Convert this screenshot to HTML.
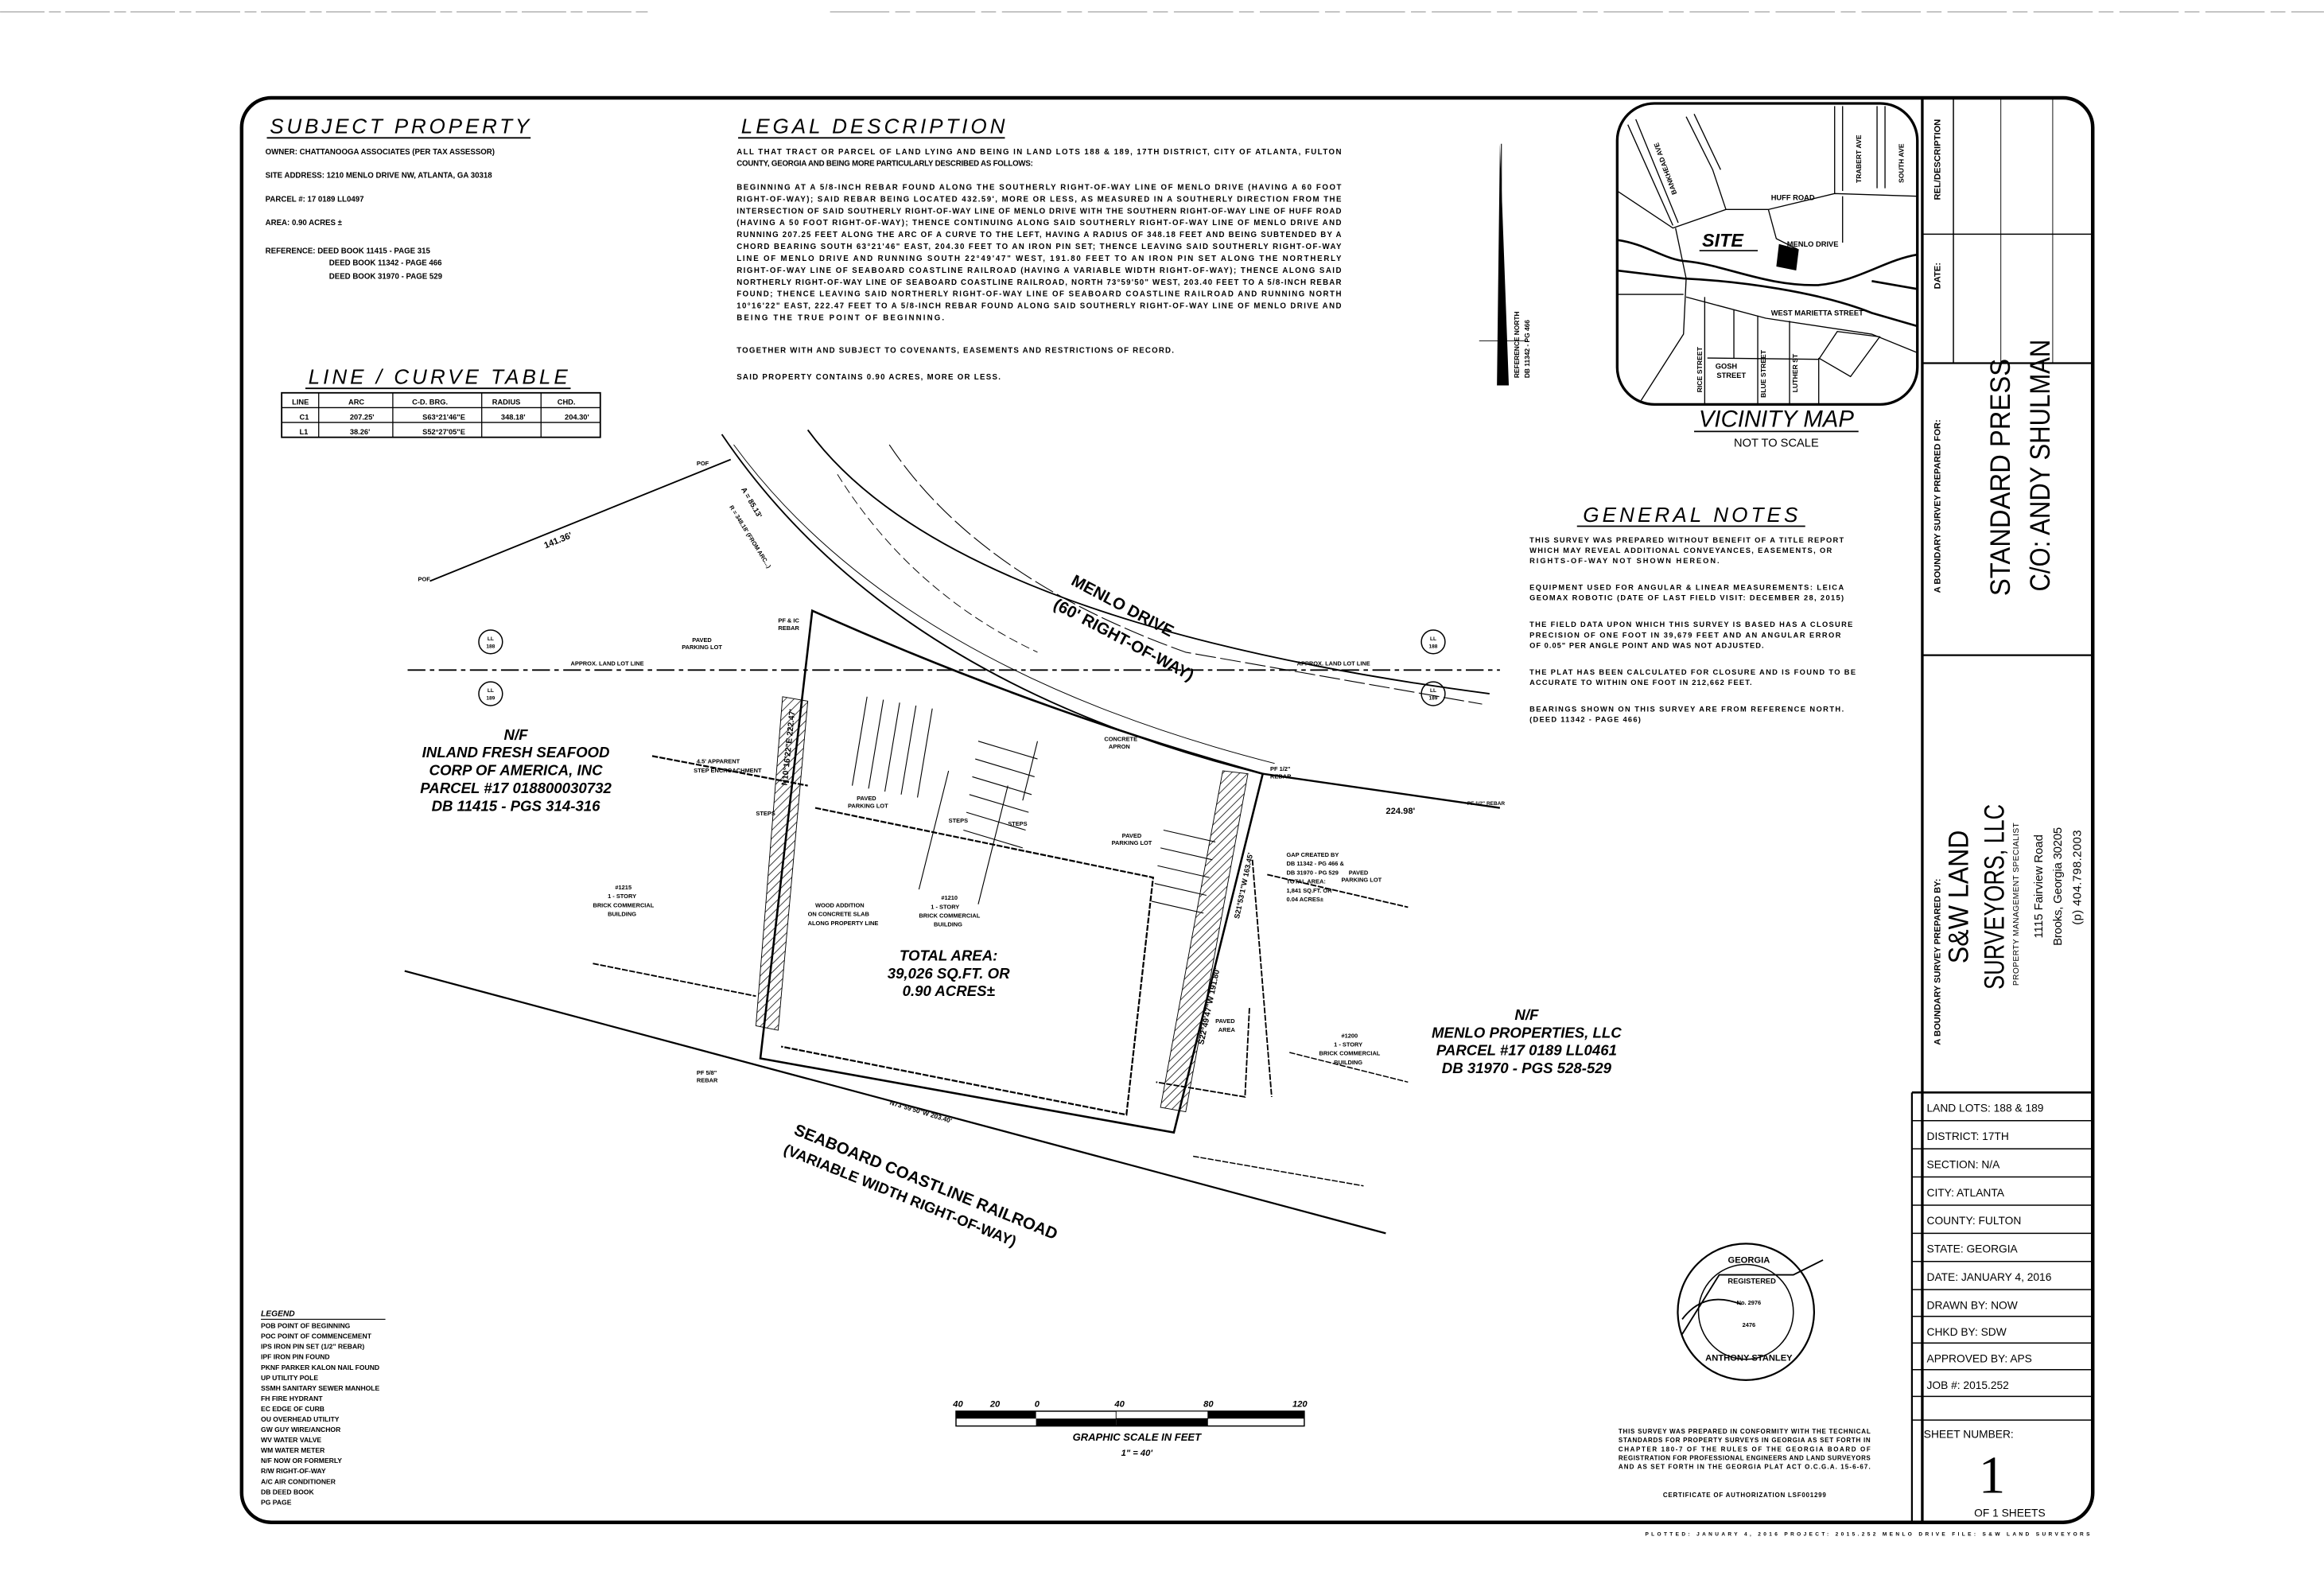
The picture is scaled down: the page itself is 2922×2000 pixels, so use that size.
<!DOCTYPE html>
<html><head><meta charset="utf-8"><style>
html,body{margin:0;padding:0;background:#fff;}
svg{display:block;}
text{font-family:"Liberation Sans",sans-serif;fill:#000;}
.b{font-weight:bold;}
.h{font-style:italic;font-size:14px;}
.s{font-size:5.2px;font-weight:bold;}
.t{font-size:5.6px;font-weight:bold;}
.ln{stroke:#000;fill:none;}
</style></head><body>
<svg width="2922" height="2000" viewBox="0 0 1568 1073.3" xmlns="http://www.w3.org/2000/svg">
<rect width="1568" height="1073.3" fill="#fff"/>
<line x1="0" y1="8" x2="440" y2="8" stroke="#999" stroke-width="0.6" stroke-dasharray="30 3 8 3"/>
<line x1="560" y1="8" x2="1568" y2="8" stroke="#999" stroke-width="0.6" stroke-dasharray="40 4 10 4"/>
<rect x="163" y="66" width="1249" height="961" rx="20" class="ln" stroke-width="2.4"/>
<line x1="1297" y1="66" x2="1297" y2="1027" class="ln" stroke-width="1.8"/>
<line x1="1297" y1="245" x2="1412" y2="245" class="ln" stroke-width="1.2"/>
<line x1="1297" y1="158" x2="1412" y2="158" class="ln" stroke-width="0.8"/>
<line x1="1318" y1="66" x2="1318" y2="245" class="ln" stroke-width="0.8"/>
<line x1="1350" y1="66" x2="1350" y2="245" class="ln" stroke-width="0.5"/>
<line x1="1385" y1="66" x2="1385" y2="245" class="ln" stroke-width="0.5"/>
<line x1="1297" y1="442" x2="1412" y2="442" class="ln" stroke-width="1.2"/>
<line x1="1290" y1="737" x2="1412" y2="737" class="ln" stroke-width="1.4"/>
<g class="ln" stroke-width="0.8">
<line x1="1290" y1="756" x2="1412" y2="756"/><line x1="1290" y1="775" x2="1412" y2="775"/>
<line x1="1290" y1="794" x2="1412" y2="794"/><line x1="1290" y1="813" x2="1412" y2="813"/>
<line x1="1290" y1="832" x2="1412" y2="832"/><line x1="1290" y1="851" x2="1412" y2="851"/>
<line x1="1290" y1="870" x2="1412" y2="870"/><line x1="1290" y1="888" x2="1412" y2="888"/>
<line x1="1290" y1="906" x2="1412" y2="906"/><line x1="1290" y1="924" x2="1412" y2="924"/>
<line x1="1290" y1="942" x2="1412" y2="942"/><line x1="1290" y1="958" x2="1412" y2="958"/>
</g>
<line x1="1290" y1="737" x2="1290" y2="1027" class="ln" stroke-width="1.2"/>
<g class="t" style="font-size:7.4px;font-weight:normal">
<text x="1300" y="750">LAND LOTS: 188 &amp; 189</text>
<text x="1300" y="769">DISTRICT: 17TH</text>
<text x="1300" y="788">SECTION: N/A</text>
<text x="1300" y="807">CITY: ATLANTA</text>
<text x="1300" y="826">COUNTY: FULTON</text>
<text x="1300" y="845">STATE: GEORGIA</text>
<text x="1300" y="864">DATE: JANUARY 4, 2016</text>
<text x="1300" y="883">DRAWN BY: NOW</text>
<text x="1300" y="901">CHKD BY: SDW</text>
<text x="1300" y="919">APPROVED BY: APS</text>
<text x="1300" y="937">JOB #: 2015.252</text>
<text x="1298" y="970">SHEET NUMBER:</text>
<text x="1332" y="1023">OF 1 SHEETS</text>
</g>
<text x="1344" y="1007" text-anchor="middle" style="font-size:36px;font-family:'Liberation Serif',serif">1</text>
<g class="t" style="font-size:6px">
<text transform="translate(1309,195) rotate(-90)">DATE:</text>
<text transform="translate(1309,135) rotate(-90)">REL/DESCRIPTION</text>
<text transform="translate(1309,400) rotate(-90)">A BOUNDARY SURVEY PREPARED FOR:</text>
<text transform="translate(1309,705) rotate(-90)">A BOUNDARY SURVEY PREPARED BY:</text>
</g>
<g text-anchor="middle" style="font-size:19px">
<text transform="translate(1356,322) rotate(-90)" textLength="160" lengthAdjust="spacingAndGlyphs">STANDARD PRESS</text>
<text transform="translate(1383,314) rotate(-90)" textLength="170" lengthAdjust="spacingAndGlyphs">C/O: ANDY SHULMAN</text>
<text transform="translate(1328,605) rotate(-90)" textLength="90" lengthAdjust="spacingAndGlyphs">S&amp;W LAND</text>
<text transform="translate(1352,605) rotate(-90)" textLength="125" lengthAdjust="spacingAndGlyphs">SURVEYORS, LLC</text>
</g>
<g text-anchor="middle" class="t" style="font-size:8px;font-weight:normal">
<text transform="translate(1362,610) rotate(-90)" style="font-size:5.5px" textLength="110">PROPERTY MANAGEMENT SPECIALIST</text>
<text transform="translate(1378,598) rotate(-90)" textLength="70">1115 Fairview Road</text>
<text transform="translate(1391,598) rotate(-90)" textLength="80">Brooks, Georgia 30205</text>
<text transform="translate(1404,592) rotate(-90)" textLength="64">(p) 404.798.2003</text>
</g>

<text x="182" y="90" class="h" textLength="175">SUBJECT PROPERTY</text>
<line x1="180" y1="93" x2="358" y2="93" class="ln" stroke-width="1"/>
<g class="s">
<text x="179" y="104">OWNER: CHATTANOOGA ASSOCIATES (PER TAX ASSESSOR)</text>
<text x="179" y="120">SITE ADDRESS: 1210 MENLO DRIVE NW, ATLANTA, GA 30318</text>
<text x="179" y="136">PARCEL #: 17 0189 LL0497</text>
<text x="179" y="152">AREA: 0.90 ACRES ±</text>
<text x="179" y="171">REFERENCE: DEED BOOK 11415 - PAGE 315</text>
<text x="222" y="179">DEED BOOK 11342 - PAGE 466</text>
<text x="222" y="188">DEED BOOK 31970 - PAGE 529</text>
</g>
<text x="208" y="259" class="h" textLength="175">LINE / CURVE TABLE</text>
<line x1="206" y1="262" x2="385" y2="262" class="ln" stroke-width="1"/>
<rect x="190" y="265" width="215" height="30" class="ln" stroke-width="1"/>
<g class="ln" stroke-width="0.7">
<line x1="190" y1="275" x2="405" y2="275"/><line x1="190" y1="285" x2="405" y2="285"/>
<line x1="215" y1="265" x2="215" y2="295"/><line x1="265" y1="265" x2="265" y2="295"/>
<line x1="325" y1="265" x2="325" y2="295"/><line x1="365" y1="265" x2="365" y2="295"/>
</g>
<g class="s" style="font-size:5px">
<text x="197" y="273">LINE</text><text x="235" y="273">ARC</text><text x="278" y="273">C-D. BRG.</text><text x="332" y="273">RADIUS</text><text x="376" y="273">CHD.</text>
<text x="202" y="283">C1</text><text x="236" y="283">207.25'</text><text x="285" y="283">S63°21'46"E</text><text x="338" y="283">348.18'</text><text x="381" y="283">204.30'</text>
<text x="202" y="293">L1</text><text x="236" y="293">38.26'</text><text x="285" y="293">S52°27'05"E</text>
</g>

<text x="500" y="90" class="h" textLength="178">LEGAL DESCRIPTION</text>
<line x1="498" y1="93" x2="678" y2="93" class="ln" stroke-width="1"/>
<g class="s" lengthAdjust="spacingAndGlyphs">
<text x="497" y="104" textLength="408">ALL THAT TRACT OR PARCEL OF LAND LYING AND BEING IN LAND LOTS 188 &amp; 189, 17TH DISTRICT, CITY OF ATLANTA, FULTON</text>
<text x="497" y="112" textLength="200">COUNTY, GEORGIA AND BEING MORE PARTICULARLY DESCRIBED AS FOLLOWS:</text>
<text x="497" y="128" textLength="408">BEGINNING AT A 5/8-INCH REBAR FOUND ALONG THE SOUTHERLY RIGHT-OF-WAY LINE OF MENLO DRIVE (HAVING A 60 FOOT</text>
<text x="497" y="136" textLength="408">RIGHT-OF-WAY); SAID REBAR BEING LOCATED 432.59', MORE OR LESS, AS MEASURED IN A SOUTHERLY DIRECTION FROM THE</text>
<text x="497" y="144" textLength="408">INTERSECTION OF SAID SOUTHERLY RIGHT-OF-WAY LINE OF MENLO DRIVE WITH THE SOUTHERN RIGHT-OF-WAY LINE OF HUFF ROAD</text>
<text x="497" y="152" textLength="408">(HAVING A 50 FOOT RIGHT-OF-WAY); THENCE CONTINUING ALONG SAID SOUTHERLY RIGHT-OF-WAY LINE OF MENLO DRIVE AND</text>
<text x="497" y="160" textLength="408">RUNNING 207.25 FEET ALONG THE ARC OF A CURVE TO THE LEFT, HAVING A RADIUS OF 348.18 FEET AND BEING SUBTENDED BY A</text>
<text x="497" y="168" textLength="408">CHORD BEARING SOUTH 63°21'46" EAST, 204.30 FEET TO AN IRON PIN SET; THENCE LEAVING SAID SOUTHERLY RIGHT-OF-WAY</text>
<text x="497" y="176" textLength="408">LINE OF MENLO DRIVE AND RUNNING SOUTH 22°49'47" WEST, 191.80 FEET TO AN IRON PIN SET ALONG THE NORTHERLY</text>
<text x="497" y="184" textLength="408">RIGHT-OF-WAY LINE OF SEABOARD COASTLINE RAILROAD (HAVING A VARIABLE WIDTH RIGHT-OF-WAY); THENCE ALONG SAID</text>
<text x="497" y="192" textLength="408">NORTHERLY RIGHT-OF-WAY LINE OF SEABOARD COASTLINE RAILROAD, NORTH 73°59'50" WEST, 203.40 FEET TO A 5/8-INCH REBAR</text>
<text x="497" y="200" textLength="408">FOUND; THENCE LEAVING SAID NORTHERLY RIGHT-OF-WAY LINE OF SEABOARD COASTLINE RAILROAD AND RUNNING NORTH</text>
<text x="497" y="208" textLength="408">10°16'22" EAST, 222.47 FEET TO A 5/8-INCH REBAR FOUND ALONG SAID SOUTHERLY RIGHT-OF-WAY LINE OF MENLO DRIVE AND</text>
<text x="497" y="216" textLength="140">BEING THE TRUE POINT OF BEGINNING.</text>
<text x="497" y="238" textLength="295">TOGETHER WITH AND SUBJECT TO COVENANTS, EASEMENTS AND RESTRICTIONS OF RECORD.</text>
<text x="497" y="256" textLength="178">SAID PROPERTY CONTAINS 0.90 ACRES, MORE OR LESS.</text>
</g>

<polygon points="1012,97 1018,260 1010,260" fill="#000"/>
<line x1="1013" y1="97" x2="1013" y2="260" class="ln" stroke-width="0.6"/>
<line x1="998" y1="230" x2="1030" y2="230" class="ln" stroke-width="0.5"/>
<text transform="translate(1025,255) rotate(-90)" class="s" style="font-size:4.5px">REFERENCE NORTH</text>
<text transform="translate(1032,255) rotate(-90)" class="s" style="font-size:4.5px">DB 11342 - PG 466</text>

<g transform="translate(1084,64.4) scale(0.1789)">
<rect x="40" y="30" width="1132" height="1135" rx="140" class="ln" stroke-width="10"/>
<g class="ln" stroke-width="8">
<path d="M40 545 C150 560 220 620 300 625 C450 640 600 720 800 715 C950 700 1050 620 1172 600"/>
<path d="M40 660 L290 690 C500 700 800 740 1000 820 L1172 870"/>
<path d="M1172 730 L1000 700"/>
</g>
<g class="ln" stroke-width="4">
<path d="M80 110 L250 490 M110 90 L270 480"/>
<path d="M40 360 L250 500 L450 430 L610 430 L860 370 L1172 380"/>
<path d="M300 80 L400 280 L450 430 M330 70 L430 280"/>
<path d="M860 40 L860 370 M890 40 L890 360 M1020 40 L1020 350 M1050 40 L1050 350"/>
<path d="M610 430 L640 540 L720 580 M890 380 L890 555"/>
<path d="M260 500 L300 690 L290 900 L130 1150"/>
<path d="M40 750 L290 750 M300 760 L600 840 L1000 900 L1172 970"/>
<path d="M370 760 L370 1165 M480 810 L480 990 M570 830 L570 1165 M690 850 L690 1165 M800 990 L800 1165"/>
<path d="M380 990 L800 995 L870 890 L1030 910 L920 1060 L800 990"/>
</g>
<polygon points="650,560 725,580 715,660 640,645" fill="#000"/>
<line x1="350" y1="585" x2="570" y2="585" class="ln" stroke-width="5"/>
<text x="360" y="570" style="font-size:70px;font-style:italic;font-weight:bold">SITE</text>
<text x="680" y="570" style="font-size:28px;font-weight:bold">MENLO DRIVE</text>
<text x="620" y="395" style="font-size:28px;font-weight:bold">HUFF ROAD</text>
<text x="620" y="830" style="font-size:28px;font-weight:bold">WEST MARIETTA STREET</text>
<text x="410" y="1030" style="font-size:28px;font-weight:bold">GOSH</text>
<text x="415" y="1065" style="font-size:28px;font-weight:bold">STREET</text>
<text transform="translate(265,370) rotate(-110)" style="font-size:26px;font-weight:bold">BANKHEAD AVE</text>
<text transform="translate(960,330) rotate(-90)" style="font-size:26px;font-weight:bold">TRABERT AVE</text>
<text transform="translate(1120,330) rotate(-90)" style="font-size:26px;font-weight:bold">SOUTH AVE</text>
<text transform="translate(600,1140) rotate(-90)" style="font-size:26px;font-weight:bold">BLUE STREET</text>
<text transform="translate(360,1120) rotate(-90)" style="font-size:26px;font-weight:bold">RICE STREET</text>
<text transform="translate(720,1120) rotate(-90)" style="font-size:26px;font-weight:bold">LUTHER ST</text>
<line x1="330" y1="1267" x2="950" y2="1267" class="ln" stroke-width="5"/>
<text x="640" y="1250" text-anchor="middle" style="font-size:88px;font-style:italic">VICINITY MAP</text>
<text x="640" y="1325" text-anchor="middle" style="font-size:44px">NOT TO SCALE</text>
</g>

<text x="1068" y="352" class="h" textLength="145">GENERAL NOTES</text>
<line x1="1064" y1="355" x2="1218" y2="355" class="ln" stroke-width="0.9"/>
<g class="s" style="font-size:5px" lengthAdjust="spacingAndGlyphs">
<text x="1032" y="366" textLength="212">THIS SURVEY WAS PREPARED WITHOUT BENEFIT OF A TITLE REPORT</text>
<text x="1032" y="373" textLength="204">WHICH MAY REVEAL ADDITIONAL CONVEYANCES, EASEMENTS, OR</text>
<text x="1032" y="380" textLength="128">RIGHTS-OF-WAY NOT SHOWN HEREON.</text>
<text x="1032" y="398" textLength="212">EQUIPMENT USED FOR ANGULAR &amp; LINEAR MEASUREMENTS: LEICA</text>
<text x="1032" y="405" textLength="212">GEOMAX ROBOTIC (DATE OF LAST FIELD VISIT: DECEMBER 28, 2015)</text>
<text x="1032" y="423" textLength="218">THE FIELD DATA UPON WHICH THIS SURVEY IS BASED HAS A CLOSURE</text>
<text x="1032" y="430" textLength="210">PRECISION OF ONE FOOT IN 39,679 FEET AND AN ANGULAR ERROR</text>
<text x="1032" y="437" textLength="158">OF 0.05" PER ANGLE POINT AND WAS NOT ADJUSTED.</text>
<text x="1032" y="455" textLength="220">THE PLAT HAS BEEN CALCULATED FOR CLOSURE AND IS FOUND TO BE</text>
<text x="1032" y="462" textLength="150">ACCURATE TO WITHIN ONE FOOT IN 212,662 FEET.</text>
<text x="1032" y="480" textLength="212">BEARINGS SHOWN ON THIS SURVEY ARE FROM REFERENCE NORTH.</text>
<text x="1032" y="487" textLength="75">(DEED 11342 - PAGE 466)</text>
</g>

<line x1="275" y1="452" x2="1012" y2="452" stroke="#000" stroke-width="1" stroke-dasharray="12 3 3 3"/>
<g class="s" style="font-size:4px">
<text x="385" y="449">APPROX. LAND LOT LINE</text><text x="875" y="449">APPROX. LAND LOT LINE</text>
</g>
<g class="ln" stroke-width="0.8">
<circle cx="331" cy="433" r="8"/><circle cx="331" cy="468" r="8"/>
<circle cx="967" cy="433" r="8"/><circle cx="967" cy="468" r="8"/>
</g>
<g class="s" style="font-size:3.5px" text-anchor="middle">
<text x="331" y="432">LL</text><text x="331" y="437">188</text><text x="331" y="467">LL</text><text x="331" y="472">189</text>
<text x="967" y="432">LL</text><text x="967" y="437">188</text><text x="967" y="467">LL</text><text x="967" y="472">189</text>
</g>
<g class="ln" stroke-width="1">
<path d="M545 290 Q640 420 1005 468"/>
<path d="M487 293 Q600 460 852 522"/>
<path d="M495 300 Q605 450 860 515" stroke-width="0.5"/>
<path d="M600 300 Q660 390 800 440 L1000 475" stroke-width="0.6" stroke-dasharray="14 3"/>
<path d="M565 320 Q615 400 700 440" stroke-width="0.5" stroke-dasharray="6 3"/>
</g>
<line x1="852" y1="522" x2="1012" y2="545" class="ln" stroke-width="1.3"/>
<text x="935" y="549" class="s" style="font-size:6px">224.98'</text>
<text x="990" y="543" class="s" style="font-size:3.5px">PF 1/2" REBAR</text>
<line x1="290" y1="392" x2="493" y2="310" class="ln" stroke-width="1"/>
<text transform="translate(368,370) rotate(-22)" class="s" style="font-size:6px">141.36'</text>
<text x="282" y="392" class="s" style="font-size:4px">POF</text>
<text x="470" y="314" class="s" style="font-size:4px">POF</text>
<text transform="translate(722,394) rotate(28)" style="font-size:11px" class="b">MENLO DRIVE</text>
<text transform="translate(710,410) rotate(28)" style="font-size:11px" class="b">(60' RIGHT-OF-WAY)</text>
<text transform="translate(500,330) rotate(60)" class="s" style="font-size:5px">A = 85.13'</text>
<text transform="translate(492,342) rotate(58)" class="s" style="font-size:4px">R = 348.18' (FROM ARC...)</text>

<line x1="273" y1="655" x2="935" y2="832" class="ln" stroke-width="1.2"/>
<text transform="translate(535,765) rotate(22)" style="font-size:11px" class="b">SEABOARD COASTLINE RAILROAD</text>
<text transform="translate(528,778) rotate(22)" style="font-size:10px" class="b">(VARIABLE WIDTH RIGHT-OF-WAY)</text>
<text transform="translate(600,745) rotate(17)" class="s" style="font-size:4.5px">N73°59'50"W 203.40'</text>

<path d="M548 412 Q700 480 852 522 L792 764 L513 714 Z" class="ln" stroke-width="1.4"/>
<defs>
<pattern id="hh" width="4" height="4" patternUnits="userSpaceOnUse" patternTransform="rotate(45)">
<line x1="0" y1="0" x2="0" y2="4" stroke="#000" stroke-width="0.8"/></pattern>
</defs>
<polygon points="528,470 545,473 525,695 510,692" fill="url(#hh)" stroke="#000" stroke-width="0.5"/>
<polygon points="825,520 842,522 800,750 783,747" fill="url(#hh)" stroke="#000" stroke-width="0.5"/>
<path d="M440 510 L545 530 M550 545 L778 592 L760 752 L527 706" class="ln" stroke-width="1.2" stroke-dasharray="4 1"/>
<path d="M400 650 L510 672 M855 590 L950 612 M843 680 L840 740 L780 730 M845 580 L858 740" class="ln" stroke-width="1" stroke-dasharray="4 1"/>
<path d="M870 710 L950 730 M805 780 L920 800" class="ln" stroke-width="0.8" stroke-dasharray="4 1"/>
<g class="ln" stroke-width="0.6">
<path d="M585 470 L575 530 M596 472 L586 532 M607 474 L597 534 M618 476 L608 536 M629 478 L619 538"/>
<path d="M660 500 L700 512 M658 512 L698 524 M656 524 L696 536 M654 536 L694 548 M652 548 L692 560 M650 560 L690 572"/>
<path d="M785 560 L820 568 M783 572 L818 580 M781 584 L816 592 M779 596 L814 604 M777 608 L812 616"/>
<path d="M640 520 L620 600 M680 530 L660 610 M700 500 L690 540"/>
</g>
<g class="s" style="font-size:4px">
<text x="578" y="540">PAVED</text><text x="572" y="545">PARKING LOT</text>
<text x="467" y="433">PAVED</text><text x="460" y="438">PARKING LOT</text>
<text x="757" y="565">PAVED</text><text x="750" y="570">PARKING LOT</text>
<text x="910" y="590">PAVED</text><text x="905" y="595">PARKING LOT</text>
<text x="745" y="500">CONCRETE</text><text x="748" y="505">APRON</text>
<text x="635" y="607">#1210</text><text x="628" y="613">1 - STORY</text><text x="620" y="619">BRICK COMMERCIAL</text><text x="630" y="625">BUILDING</text>
<text x="415" y="600">#1215</text><text x="410" y="606">1 - STORY</text><text x="400" y="612">BRICK COMMERCIAL</text><text x="410" y="618">BUILDING</text>
<text x="905" y="700">#1200</text><text x="900" y="706">1 - STORY</text><text x="890" y="712">BRICK COMMERCIAL</text><text x="900" y="718">BUILDING</text>
<text x="550" y="612">WOOD ADDITION</text><text x="545" y="618">ON CONCRETE SLAB</text><text x="545" y="624">ALONG PROPERTY LINE</text>
<text x="868" y="578">GAP CREATED BY</text><text x="868" y="584">DB 11342 - PG 466 &amp;</text><text x="868" y="590">DB 31970 - PG 529</text><text x="868" y="596">TOTAL AREA:</text><text x="868" y="602">1,841 SQ.FT. OR</text><text x="868" y="608">0.04 ACRES±</text>
<text x="820" y="690">PAVED</text><text x="822" y="696">AREA</text>
<text x="525" y="420">PF &amp; IC</text><text x="525" y="425">REBAR</text>
<text x="470" y="725">PF 5/8"</text><text x="470" y="730">REBAR</text>
<text x="857" y="520">PF 1/2"</text><text x="857" y="525">REBAR</text>
<text x="470" y="515">4.5' APPARENT</text><text x="468" y="521">STEP ENCROACHMENT</text>
<text x="510" y="550">STEPS</text><text x="640" y="555">STEPS</text><text x="680" y="557">STEPS</text>
</g>
<text transform="translate(531,530) rotate(-84)" class="s" style="font-size:5.5px">N10°16'22"E 222.47'</text>
<text transform="translate(812,705) rotate(-78)" class="s" style="font-size:5.5px">S22°49'47"W 191.80'</text>
<text transform="translate(836,620) rotate(-78)" class="s" style="font-size:5px">S21°53'1"W 163.45'</text>
<g class="b" text-anchor="middle" style="font-size:10px;font-style:italic">
<text x="348" y="499">N/F</text>
<text x="348" y="511">INLAND FRESH SEAFOOD</text>
<text x="348" y="523">CORP OF AMERICA, INC</text>
<text x="348" y="535">PARCEL #17 018800030732</text>
<text x="348" y="547">DB 11415 - PGS 314-316</text>
<text x="1030" y="688">N/F</text>
<text x="1030" y="700">MENLO PROPERTIES, LLC</text>
<text x="1030" y="712">PARCEL #17 0189 LL0461</text>
<text x="1030" y="724">DB 31970 - PGS 528-529</text>
<text x="640" y="648">TOTAL AREA:</text>
<text x="640" y="660">39,026 SQ.FT. OR</text>
<text x="640" y="672">0.90 ACRES±</text>
</g>

<g class="ln">
<circle cx="1178" cy="885" r="46" stroke-width="1.2"/>
<circle cx="1178" cy="885" r="32" stroke-width="0.8"/>
<path d="M1135 900 L1160 860 L1210 860 L1230 850 M1135 890 Q1150 870 1175 880" stroke-width="1"/>
</g>
<g class="s" style="font-size:6px" text-anchor="middle">
<text x="1180" y="852">GEORGIA</text><text x="1182" y="866" style="font-size:5px">REGISTERED</text>
<text x="1180" y="880" style="font-size:4px">No. 2976</text><text x="1180" y="895" style="font-size:4px">2476</text>
<text x="1180" y="918">ANTHONY STANLEY</text>
</g>
<g class="s" style="font-size:4.3px" lengthAdjust="spacingAndGlyphs">
<text x="1092" y="967" textLength="170">THIS SURVEY WAS PREPARED IN CONFORMITY WITH THE TECHNICAL</text>
<text x="1092" y="973" textLength="170">STANDARDS FOR PROPERTY SURVEYS IN GEORGIA AS SET FORTH IN</text>
<text x="1092" y="979" textLength="170">CHAPTER 180-7 OF THE RULES OF THE GEORGIA BOARD OF</text>
<text x="1092" y="985" textLength="170">REGISTRATION FOR PROFESSIONAL ENGINEERS AND LAND SURVEYORS</text>
<text x="1092" y="991" textLength="170">AND AS SET FORTH IN THE GEORGIA PLAT ACT O.C.G.A. 15-6-67.</text>
<text x="1122" y="1010" textLength="110">CERTIFICATE OF AUTHORIZATION LSF001299</text>
</g>
<g class="ln" stroke-width="0.8">
<rect x="645" y="952" width="235" height="10"/>
</g>
<rect x="645" y="952" width="54" height="5" fill="#000"/>
<rect x="699" y="957" width="54" height="5" fill="#000"/>
<rect x="753" y="952" width="62" height="5" fill="#fff" stroke="#000" stroke-width="0.5"/>
<rect x="753" y="957" width="62" height="5" fill="#000"/>
<rect x="815" y="952" width="65" height="5" fill="#000"/>
<g class="s" style="font-size:6px;font-style:italic">
<text x="643" y="949">40</text><text x="668" y="949">20</text><text x="698" y="949">0</text><text x="752" y="949">40</text><text x="812" y="949">80</text><text x="872" y="949">120</text>
</g>
<text x="767" y="972" text-anchor="middle" class="s" style="font-size:7px;font-style:italic">GRAPHIC SCALE IN FEET</text>
<text x="767" y="982" text-anchor="middle" class="s" style="font-size:6px;font-style:italic">1" = 40'</text>

<text x="176" y="888" class="s" style="font-size:5.5px;font-style:italic">LEGEND</text>
<line x1="176" y1="890" x2="260" y2="890" class="ln" stroke-width="0.6"/>
<g class="s" style="font-size:4.6px">
<text x="176" y="896">POB  POINT OF BEGINNING</text>
<text x="176" y="903">POC  POINT OF COMMENCEMENT</text>
<text x="176" y="910">IPS   IRON PIN SET (1/2" REBAR)</text>
<text x="176" y="917">IPF   IRON PIN FOUND</text>
<text x="176" y="924">PKNF  PARKER KALON NAIL FOUND</text>
<text x="176" y="931">UP    UTILITY POLE</text>
<text x="176" y="938">SSMH  SANITARY SEWER MANHOLE</text>
<text x="176" y="945">FH    FIRE HYDRANT</text>
<text x="176" y="952">EC    EDGE OF CURB</text>
<text x="176" y="959">OU    OVERHEAD UTILITY</text>
<text x="176" y="966">GW    GUY WIRE/ANCHOR</text>
<text x="176" y="973">WV    WATER VALVE</text>
<text x="176" y="980">WM    WATER METER</text>
<text x="176" y="987">N/F   NOW OR FORMERLY</text>
<text x="176" y="994">R/W   RIGHT-OF-WAY</text>
<text x="176" y="1001">A/C   AIR CONDITIONER</text>
<text x="176" y="1008">DB    DEED BOOK</text>
<text x="176" y="1015">PG    PAGE</text>
</g>
<text x="1110" y="1036" class="s" style="font-size:3.5px" textLength="300">PLOTTED: JANUARY 4, 2016  PROJECT: 2015.252 MENLO DRIVE  FILE: S&amp;W LAND SURVEYORS</text>
</svg>
</body></html>
